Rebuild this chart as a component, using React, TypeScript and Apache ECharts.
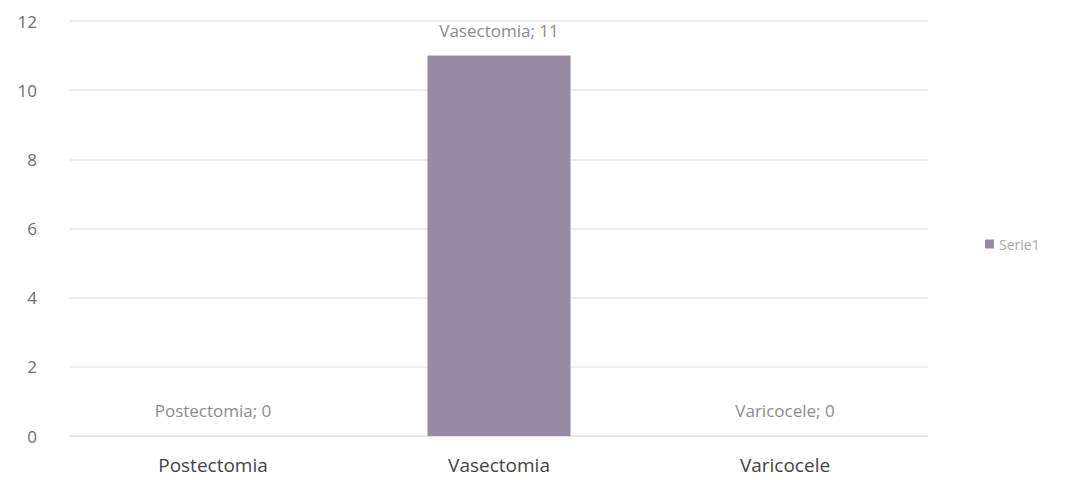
import React, { useEffect, useRef } from "react";
import * as echarts from "echarts";

const categories = ["Postectomia", "Vasectomia", "Varicocele"];
const values = [0, 11, 0];
const seriesName = "Serie1";
const yTicks = { min: 0, max: 12, interval: 2 };

export default function App() {
  const ref = useRef<HTMLDivElement>(null);
  useEffect(() => {
    if (!ref.current) return;
    const chart = echarts.init(ref.current, undefined, { renderer: "svg" });
    chart.setOption({
      animation: false,
      textStyle: { fontFamily: "Open Sans" },
      legend: {
        data: [seriesName],
        orient: "vertical",
        left: 980,
        top: 232,
        itemWidth: 9,
        itemHeight: 9,
        itemGap: 4,
        icon: "rect",
        textStyle: { color: "#aaaaaa", fontSize: 14, fontFamily: "Open Sans" },
      },
      grid: { left: 70, right: 143, top: 21, bottom: 44, containLabel: false },
      xAxis: {
        type: "category",
        data: categories,
        axisLine: { show: true, lineStyle: { color: "#e4e4e4" } },
        axisTick: { show: false },
        axisLabel: { color: "#444444", fontSize: 19, margin: 19, fontFamily: "Open Sans" },
      },
      yAxis: {
        type: "value",
        min: yTicks.min,
        max: yTicks.max,
        interval: yTicks.interval,
        axisLine: { show: false },
        axisTick: { show: false },
        axisLabel: { color: "#6e6e6e", fontSize: 17, margin: 33, fontFamily: "Open Sans" },
        splitLine: { lineStyle: { color: "#e8e8e8", width: 1.5 } },
      },
      series: [
        {
          name: seriesName,
          type: "bar",
          data: values,
          barWidth: "50%",
          itemStyle: { color: "#978ba2" },
          label: {
            show: true,
            position: "top",
            distance: 17,
            fontSize: 17,
            fontFamily: "Open Sans",
            formatter: (p: any) => `${p.name}; ${p.value}`,
            color: "#8c8c8c",
          },
        },
      ],
    });
    return () => chart.dispose();
  }, []);
  return <div ref={ref} style={{ width: 1071, height: 480, position: "absolute", left: 0, top: 0 }} />;
}
